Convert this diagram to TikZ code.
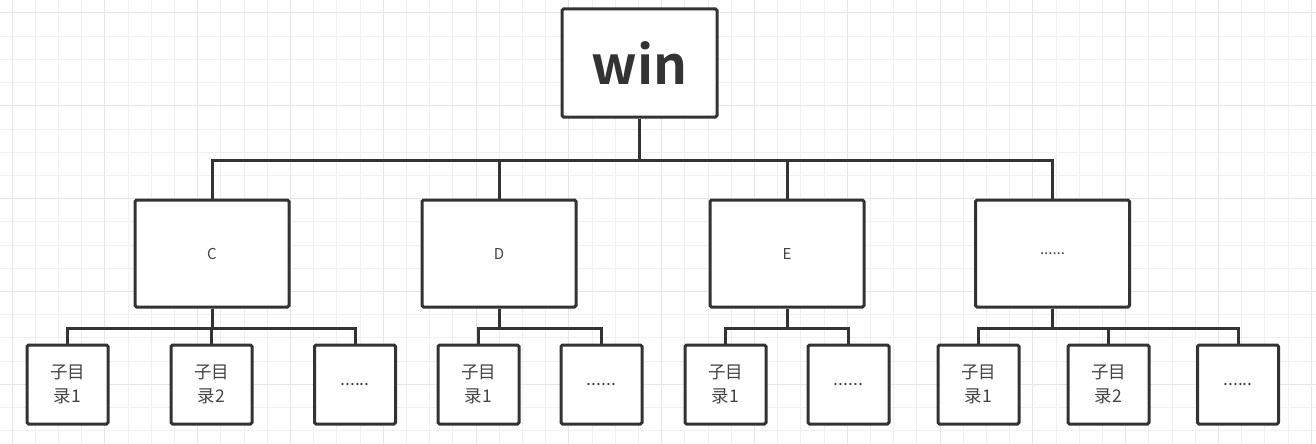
\documentclass[tikz,border=0pt]{standalone}
\usepackage{fontspec}
\setmainfont{Noto Sans CJK SC}
\newfontfamily\winfont{Noto Sans CJK SC Bold}
\definecolor{edge}{HTML}{333333}
\definecolor{txt}{HTML}{444444}
\definecolor{gridminor}{HTML}{F0F0F0}
\definecolor{gridmajor}{HTML}{E6E6E6}
\tikzset{
  box/.style={draw=edge, line width=3pt, fill=white, rounded corners=1.5pt, inner sep=0pt, text=txt},
  rootbox/.style={box, minimum width=155pt, minimum height=108pt, font=\winfont\fontsize{53}{58}\selectfont, text=edge},
  midbox/.style={box, minimum width=154pt, minimum height=107pt, font=\fontsize{15}{18}\selectfont},
  leafbox/.style={box, minimum width=81pt, minimum height=79pt, align=center, font=\fontsize{17.5}{24}\selectfont},
  wire/.style={draw=edge, line width=3pt},
}
\begin{document}
\begin{tikzpicture}[x=1pt,y=-1pt]
\useasboundingbox (0,0) rectangle (1316,444);
\fill[white] (0,0) rectangle (1316,444);
% grid
\foreach \i in {0,...,57} {
  \pgfmathsetmacro{\xx}{12+23.2*\i}
  \draw[gridminor, line width=1pt] (\xx,0) -- (\xx,444);
}
\foreach \i in {0,...,19} {
  \pgfmathsetmacro{\yy}{13+23.2*\i}
  \draw[gridminor, line width=1pt] (0,\yy) -- (1316,\yy);
}
\foreach \i in {0,...,14} {
  \pgfmathsetmacro{\xx}{12+92.8*\i}
  \draw[gridmajor, line width=1pt] (\xx,0) -- (\xx,444);
}
\foreach \i in {0,...,4} {
  \pgfmathsetmacro{\yy}{13+92.8*\i}
  \draw[gridmajor, line width=1pt] (0,\yy) -- (1316,\yy);
}
% nodes
\node[rootbox] (win) at (639.5,63) {win};
\node[midbox] (C) at (212,253.5) {C};
\node[midbox] (D) at (499,253.5) {D};
\node[midbox] (E) at (787,253.5) {E};
\node[midbox] (X) at (1052.5,253.5) {......};

\node[leafbox] (c1) at (67.5,384.5) {子目\\录1};
\node[leafbox] (c2) at (211.5,384.5) {子目\\录2};
\node[leafbox] (c3) at (355,384.5) {......};
\node[leafbox] (d1) at (478.5,384.5) {子目\\录1};
\node[leafbox] (d2) at (601.5,384.5) {......};
\node[leafbox] (e1) at (725.5,384.5) {子目\\录1};
\node[leafbox] (e2) at (848.5,384.5) {......};
\node[leafbox] (x1) at (978.5,384.5) {子目\\录1};
\node[leafbox] (x2) at (1108.5,384.5) {子目\\录2};
\node[leafbox] (x3) at (1238,384.5) {......};

% connectors
\coordinate (bus) at (0,160);
\coordinate (sub) at (0,328);
\foreach \n in {C,D,E,X} {
  \draw[wire] (win.south) |- (bus -| \n.north) -- (\n.north);
}
\foreach \p/\c in {C/c1,C/c2,C/c3,D/d1,D/d2,E/e1,E/e2,X/x1,X/x2,X/x3} {
  \draw[wire] (\p.south) |- (sub -| \c.north) -- (\c.north);
}
\end{tikzpicture}
\end{document}
